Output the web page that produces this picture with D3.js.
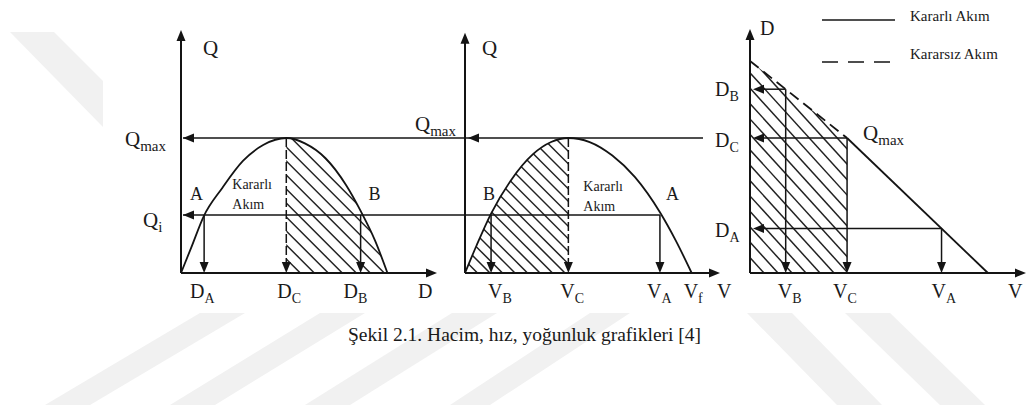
<!DOCTYPE html>
<html>
<head>
<meta charset="utf-8">
<script src="https://cdn.jsdelivr.net/npm/d3@7/dist/d3.min.js"></script>
<style>
  html, body { margin: 0; padding: 0; background: #fff; }
  svg { display: block; }
  text { font-family: "Liberation Serif", "Times New Roman", serif; fill: #1a1a1a; }
</style>
</head>
<body>
<svg id="fig" width="1027" height="405"></svg>
<script>
// ---- Flow–density curve (Q in % of Qmax, D in % of jam density)
const qdDensity = [0, 5, 11, 20, 30, 40, 51, 60, 70, 80, 87, 94, 100];
const qdFlow    = [0, 19, 42, 63, 83, 95, 100, 96, 85, 65, 46, 24, 0];

// ---- Flow–speed curve (V in % of free-flow speed)
const qvSpeed = [0, 5, 11.5, 20, 30, 38, 45.6, 55, 65, 75, 86, 93, 100];
const qvFlow  = [0, 20, 44, 68, 88, 97, 100, 97, 87, 71, 45, 24, 0];

// ---- Speed–density lines
const dvStableSpeed     = [40.8, 100];
const dvStableDensity   = [59.2, 0];
const dvUnstableSpeed   = [0, 40.8];
const dvUnstableDensity = [93, 59.2];

// ---- Reference operating points
const flowMax = 100, flowI = 43;
const densityA = 11.2, densityC = 51, densityB = 87;
const speedB = 11.5, speedC = 45.6, speedA = 86, speedF = 100;
const dvSpeedB = 15, dvDensityB = 80.6;
const dvSpeedC = 40.8, dvDensityC = 59.2;
const dvSpeedA = 80.5, dvDensityA = 19.5;

// ---- Text
const steadyLabel = ["Kararlı", "Akım"];
const legendLabels = ["Kararlı Akım", "Kararsız Akım"];
const caption = "Şekil 2.1. Hacim, hız, yoğunluk grafikleri [4]";

const svg = d3.select("#fig");
const INK = "#141414";

// Scales for the three panels
const xD  = d3.scaleLinear().domain([0, 124]).range([181, 437]);
const yQ  = d3.scaleLinear().domain([0, 180]).range([273, 30]);
const xV  = d3.scaleLinear().domain([0, 112.5]).range([465, 720]);
const xV3 = d3.scaleLinear().domain([0, 116]).range([750, 1026]);
const yD3 = d3.scaleLinear().domain([0, 107]).range([273, 29]);

// ---- faint background watermark bands
const wm = svg.append("g").attr("fill", "#f1f1f1");
const bands = [
  [[10, 32], [54, 32], [103, 81], [103, 127]],
  [[200, 313], [245, 313], [90, 405], [45, 405]],
  [[320, 313], [365, 313], [215, 405], [170, 405]],
  [[452, 313], [497, 313], [350, 405], [305, 405]],
  [[590, 313], [630, 313], [490, 405], [450, 405]],
  [[747, 313], [792, 313], [882, 405], [837, 405]],
  [[845, 313], [890, 313], [985, 405], [940, 405]]
];
bands.forEach(b => wm.append("path").attr("d", "M" + b.map(p => p.join(",")).join("L") + "Z"));

// ---- helpers
function arrowHead(g, x, y, dir, len = 11, half = 4.5) {
  let pts;
  if (dir === "up")    pts = [[x, y], [x - half, y + len], [x + half, y + len]];
  if (dir === "down")  pts = [[x, y], [x - half, y - len], [x + half, y - len]];
  if (dir === "left")  pts = [[x, y], [x + len, y - half], [x + len, y + half]];
  if (dir === "right") pts = [[x, y], [x - len, y - half], [x - len, y + half]];
  g.append("path").attr("d", "M" + pts.map(p => p.join(",")).join("L") + "Z").attr("fill", INK);
}
function seg(g, x1, y1, x2, y2, w = 1.5, dash = null) {
  const l = g.append("line").attr("x1", x1).attr("y1", y1).attr("x2", x2).attr("y2", y2)
    .attr("stroke", INK).attr("stroke-width", w);
  if (dash) l.attr("stroke-dasharray", dash);
  return l;
}
function label(x, y, main, sub, size = 20, subSize = 14, anchor = "start") {
  const t = svg.append("text").attr("x", x).attr("y", y).attr("font-size", size).attr("text-anchor", anchor);
  t.append("tspan").text(main);
  if (sub) t.append("tspan").attr("font-size", subSize).attr("dy", 5).text(sub);
  return t;
}
function hatch(g, clipId, x0, x1, y0, y1, step, slope) {
  const h = y1 - y0;
  const hg = g.append("g").attr("clip-path", `url(#${clipId})`)
    .attr("stroke", "#222").attr("stroke-width", 1.5);
  d3.range(x0 - h / slope - step, x1 + step, step).forEach(x => {
    hg.append("line").attr("x1", x).attr("y1", y0).attr("x2", x + h / slope).attr("y2", y1);
  });
}
const defs = svg.append("defs");

// ================= Panel 1: Q – D =================
const p1 = svg.append("g");
const qdPts = qdDensity.map((d, i) => [d, qdFlow[i]]);
const qdLine = d3.line().x(d => xD(d[0])).y(d => yQ(d[1])).curve(d3.curveMonotoneX);
const qdArea = d3.area().x(d => xD(d[0])).y0(yQ(0)).y1(d => yQ(d[1])).curve(d3.curveMonotoneX);

defs.append("clipPath").attr("id", "clipQD").append("path").attr("d", qdArea(qdPts));
defs.append("clipPath").attr("id", "clipQDc").append("rect")
  .attr("x", xD(densityC)).attr("y", yQ(flowMax) - 2)
  .attr("width", xD(100) - xD(densityC) + 4).attr("height", yQ(0) - yQ(flowMax) + 2);
const h1 = p1.append("g").attr("clip-path", "url(#clipQD)");
hatch(h1, "clipQDc", xD(densityC), xD(100), yQ(flowMax), yQ(0), 14, 1);

p1.append("path").attr("d", qdLine(qdPts)).attr("fill", "none").attr("stroke", INK).attr("stroke-width", 1.8);
// axes
seg(p1, xD(0), yQ(0), xD(124) - 8, yQ(0), 2);
seg(p1, xD(0), yQ(0), xD(0), yQ(180) + 8, 2);
arrowHead(p1, xD(124), yQ(0), "right");
arrowHead(p1, xD(0), yQ(180), "up");

// ================= Panel 2: Q – V =================
const p2 = svg.append("g");
const qvPts = qvSpeed.map((v, i) => [v, qvFlow[i]]);
const qvLine = d3.line().x(d => xV(d[0])).y(d => yQ(d[1])).curve(d3.curveMonotoneX);
const qvArea = d3.area().x(d => xV(d[0])).y0(yQ(0)).y1(d => yQ(d[1])).curve(d3.curveMonotoneX);
defs.append("clipPath").attr("id", "clipQV").append("path").attr("d", qvArea(qvPts));
defs.append("clipPath").attr("id", "clipQVc").append("rect")
  .attr("x", xV(0)).attr("y", yQ(flowMax) - 2)
  .attr("width", xV(speedC) - xV(0)).attr("height", yQ(0) - yQ(flowMax) + 2);
const h2 = p2.append("g").attr("clip-path", "url(#clipQV)");
hatch(h2, "clipQVc", xV(0), xV(speedC), yQ(flowMax), yQ(0), 12.5, 1);

p2.append("path").attr("d", qvLine(qvPts)).attr("fill", "none").attr("stroke", INK).attr("stroke-width", 1.8);
seg(p2, xV(0), yQ(0), xV(112.5) - 8, yQ(0), 2);
seg(p2, xV(0), yQ(0), xV(0), yQ(178) + 8, 2);
arrowHead(p2, xV(112.5), yQ(0), "right");
arrowHead(p2, xV(0), yQ(178), "up");

// ---- linking lines across panels 1 & 2
seg(svg, xD(0) + 2, yQ(flowMax), xV(105), yQ(flowMax), 1.5);
arrowHead(svg, xD(0) + 2, yQ(flowMax), "left");
arrowHead(svg, xV(0) + 3, yQ(flowMax), "left");
seg(svg, xD(0) + 2, yQ(flowI), xV(speedA), yQ(flowI), 1.5);
arrowHead(svg, xD(0) + 2, yQ(flowI), "left");

// verticals in panel 1
seg(p1, xD(densityA), yQ(flowI), xD(densityA), yQ(0) - 8, 1.5);
arrowHead(p1, xD(densityA), yQ(0), "down");
seg(p1, xD(densityB), yQ(flowI), xD(densityB), yQ(0) - 8, 1.5);
arrowHead(p1, xD(densityB), yQ(0), "down");
seg(p1, xD(densityC), yQ(flowMax), xD(densityC), yQ(0) - 8, 1.5, "9,3");
arrowHead(p1, xD(densityC), yQ(0), "down");

// verticals in panel 2
seg(p2, xV(speedB), yQ(flowI), xV(speedB), yQ(0) - 8, 1.5);
arrowHead(p2, xV(speedB), yQ(0), "down");
seg(p2, xV(speedA), yQ(flowI), xV(speedA), yQ(0) - 8, 1.5);
arrowHead(p2, xV(speedA), yQ(0), "down");
seg(p2, xV(speedC), yQ(flowMax), xV(speedC), yQ(0) - 8, 1.5, "9,3");
arrowHead(p2, xV(speedC), yQ(0), "down");

// ================= Panel 3: D – V =================
const p3 = svg.append("g");
const polyPts = [[0, dvUnstableDensity[0]], [dvSpeedC, dvDensityC], [dvSpeedC, 0], [0, 0]];
defs.append("clipPath").attr("id", "clipDV").append("path")
  .attr("d", "M" + polyPts.map(p => [xV3(p[0]), yD3(p[1])].join(",")).join("L") + "Z");
hatch(p3, "clipDV", xV3(0), xV3(dvSpeedC), yD3(dvUnstableDensity[0]), yD3(0), 14, 1.1);

const dvLine = d3.line().x(d => xV3(d[0])).y(d => yD3(d[1]));
p3.append("path").attr("d", dvLine(dvStableSpeed.map((v, i) => [v, dvStableDensity[i]])))
  .attr("fill", "none").attr("stroke", INK).attr("stroke-width", 1.8);
p3.append("path").attr("d", dvLine(dvUnstableSpeed.map((v, i) => [v, dvUnstableDensity[i]])))
  .attr("fill", "none").attr("stroke", INK).attr("stroke-width", 1.8).attr("stroke-dasharray", "11,6");

seg(p3, xV3(0), yD3(0), xV3(116) - 8, yD3(0), 2);
seg(p3, xV3(0), yD3(0), xV3(0), yD3(107) + 8, 2);
arrowHead(p3, xV3(116), yD3(0), "right");
arrowHead(p3, xV3(0), yD3(107), "up");

[[dvSpeedB, dvDensityB], [dvSpeedC, dvDensityC], [dvSpeedA, dvDensityA]].forEach(([v, d]) => {
  seg(p3, xV3(v), yD3(d), xV3(0) + 10, yD3(d), 1.5);
  arrowHead(p3, xV3(0) + 3, yD3(d), "left");
  seg(p3, xV3(v), yD3(d), xV3(v), yD3(0) - 8, 1.5);
  arrowHead(p3, xV3(v), yD3(0), "down");
});

// ---- legend
const lg = svg.append("g");
seg(lg, 822, 20, 895, 20, 1.3);
seg(lg, 822, 62, 895, 62, 1.3, "16,10");
lg.append("text").attr("x", 910).attr("y", 21).attr("font-size", 15).text(legendLabels[0]);
lg.append("text").attr("x", 910).attr("y", 59).attr("font-size", 15).text(legendLabels[1]);

// ---- axis names and point labels
label(xD(0) + 22, 55, "Q", null, 21);
label(xV(0) + 17, 55, "Q", null, 21);
label(xV3(0) + 10, 35, "D", null, 20);
label(xD(124) - 19, 298, "D", null, 20);
label(xV(112.5) - 3, 298, "V", null, 20);
label(xV3(116) - 18, 298, "V", null, 20);

label(xD(0) - 56, yQ(flowMax) + 8, "Q", "max", 21, 15);
label(xD(0) - 38, yQ(flowI) + 12, "Q", "i", 21, 15);
label(xV(0) - 50, yQ(flowMax) - 7, "Q", "max", 21, 15);
label(xV3(dvSpeedC) + 16, yD3(dvDensityC) + 2, "Q", "max", 21, 15);

label(xD(densityA) - 14, 298, "D", "A");
label(xD(densityC) - 9, 298, "D", "C");
label(xD(densityB) - 17, 298, "D", "B");
label(xV(speedB) - 3, 298, "V", "B");
label(xV(speedC) - 8, 298, "V", "C");
label(xV(speedA) - 13, 298, "V", "A");
label(xV(speedF) - 8, 298, "V", "f");
label(xV3(dvSpeedB) - 8, 298, "V", "B");
label(xV3(dvSpeedC) - 14, 298, "V", "C");
label(xV3(dvSpeedA) - 10, 298, "V", "A");

label(xV3(0) - 35, yD3(dvDensityB) + 7, "D", "B");
label(xV3(0) - 35, yD3(dvDensityC) + 9, "D", "C");
label(xV3(0) - 35, yD3(dvDensityA) + 8, "D", "A");

label(xD(densityA) - 14, 200, "A", null, 18);
label(xD(densityB) + 8, 200, "B", null, 18);
label(xV(speedB) - 8, 200, "B", null, 18);
label(xV(speedA) + 6, 200, "A", null, 18);

[[xD(densityC) - 54, 189], [xV(speedC) + 15, 191]].forEach(([x, y]) => {
  svg.append("text").attr("x", x).attr("y", y).attr("font-size", 14).text(steadyLabel[0]);
  svg.append("text").attr("x", x).attr("y", y + 20).attr("font-size", 14).text(steadyLabel[1]);
});

// ---- caption
svg.append("text").attr("x", 348).attr("y", 341).attr("font-size", 19.5).text(caption);
</script>
</body>
</html>
